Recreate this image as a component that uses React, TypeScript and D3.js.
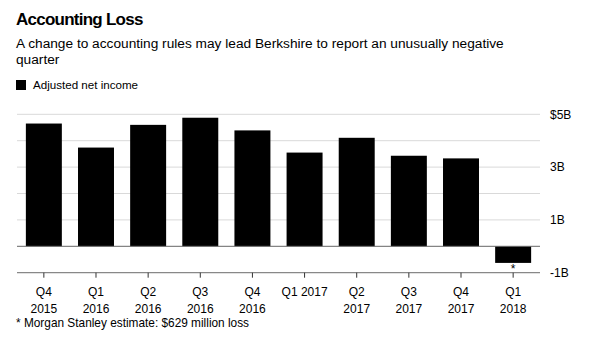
import { useEffect, useRef } from 'react';
import * as d3 from 'd3';

const quarters = ['Q4 2015', 'Q1 2016', 'Q2 2016', 'Q3 2016', 'Q4 2016', 'Q1 2017', 'Q2 2017', 'Q3 2017', 'Q4 2017', 'Q1 2018'];
const tickLines = [['Q4', '2015'], ['Q1', '2016'], ['Q2', '2016'], ['Q3', '2016'], ['Q4', '2016'], ['Q1 2017'], ['Q2', '2017'], ['Q3', '2017'], ['Q4', '2017'], ['Q1', '2018']];
const netIncome = [4.65, 3.74, 4.6, 4.87, 4.39, 3.55, 4.11, 3.43, 3.33, -0.629];
const gridValues = [5, 4, 3, 2, 1];
const yLabels = [{ v: 5, t: '$5B' }, { v: 3, t: '3B' }, { v: 1, t: '1B' }, { v: -1, t: '-1B' }];

const FONT = '"Liberation Sans", Arial, sans-serif';

const App = () => {
  const svgRef = useRef<SVGSVGElement>(null);

  useEffect(() => {
    const width = 593;
    const height = 351;
    const svg = d3.select(svgRef.current);
    svg.selectAll('*').remove();
    svg.attr('width', width).attr('height', height).style('font-family', FONT);

    const x = d3.scaleBand().domain(quarters).range([17, 540]).paddingInner(0.31).paddingOuter(0.17);
    const y = d3.scaleLinear().domain([-1, 5]).range([272.7, 114.3]);

    // Titles
    svg.append('text').attr('x', 16).attr('y', 25).text('Accounting Loss')
      .attr('font-size', 17).attr('font-weight', 'bold').attr('letter-spacing', -0.75).attr('fill', '#000');
    svg.append('text').attr('x', 16).attr('y', 48).text('A change to accounting rules may lead Berkshire to report an unusually negative')
      .attr('font-size', 13.7).attr('fill', '#000');
    svg.append('text').attr('x', 16).attr('y', 63.5).text('quarter')
      .attr('font-size', 13.7).attr('fill', '#000');

    // Legend
    svg.append('rect').attr('x', 16).attr('y', 80).attr('width', 10).attr('height', 10).attr('fill', '#000');
    svg.append('text').attr('x', 33).attr('y', 89.3).text('Adjusted net income')
      .attr('font-size', 11.6).attr('fill', '#000');

    // Gridlines
    svg.append('g').selectAll('line').data(gridValues).enter().append('line')
      .attr('x1', 17).attr('x2', 540)
      .attr('y1', d => y(d)).attr('y2', d => y(d))
      .attr('stroke', '#d9d9d9').attr('stroke-width', 1);

    // Y labels
    svg.append('g').selectAll('text').data(yLabels).enter().append('text')
      .attr('x', 550).attr('y', d => y(d.v)).attr('dy', '0.35em')
      .attr('font-size', 12).attr('fill', '#000').text(d => d.t);

    // Bars
    svg.append('g').selectAll('rect').data(netIncome).enter().append('rect')
      .attr('x', (d, i) => x(quarters[i])!)
      .attr('width', x.bandwidth())
      .attr('y', d => y(Math.max(0, d)))
      .attr('height', d => Math.abs(y(d) - y(0)))
      .attr('fill', '#000');

    // Zero line
    svg.append('line').attr('x1', 17).attr('x2', 540).attr('y1', y(0)).attr('y2', y(0))
      .attr('stroke', '#666').attr('stroke-width', 1);

    // Bottom axis
    const axis = svg.append('g').attr('transform', `translate(0,${y(-1)})`);
    axis.append('line').attr('x1', 17).attr('x2', 540).attr('stroke', '#888').attr('stroke-width', 1.2);
    axis.selectAll('.tick').data(quarters).enter().append('line')
      .attr('x1', d => x(d)! + x.bandwidth() / 2).attr('x2', d => x(d)! + x.bandwidth() / 2)
      .attr('y1', 0).attr('y2', 5).attr('stroke', '#333').attr('stroke-width', 1);

    const labels = svg.append('g').selectAll('text').data(quarters).enter().append('text')
      .attr('x', d => x(d)! + x.bandwidth() / 2)
      .attr('y', 296).attr('text-anchor', 'middle').attr('font-size', 12).attr('fill', '#000');
    labels.selectAll('tspan').data((d, i) => tickLines[i]).enter().append('tspan')
      .attr('x', function () { return (this.parentNode as SVGTextElement).getAttribute('x'); })
      .attr('dy', (d, i) => (i === 0 ? 0 : 17)).text(d => d);

    // Asterisk under estimated bar
    const last = quarters[quarters.length - 1];
    svg.append('text').attr('x', x(last)! + x.bandwidth() / 2).attr('y', y(netIncome[netIncome.length - 1]) + 10)
      .attr('text-anchor', 'middle').attr('font-size', 12).attr('fill', '#000').text('*');

    // Footnote
    svg.append('text').attr('x', 16).attr('y', 327).text('* Morgan Stanley estimate: $629 million loss')
      .attr('font-size', 11.85).attr('fill', '#000');
  }, []);

  return <svg ref={svgRef} style={{ position: 'absolute', left: 0, top: 0 }}></svg>;
};

export default App;
